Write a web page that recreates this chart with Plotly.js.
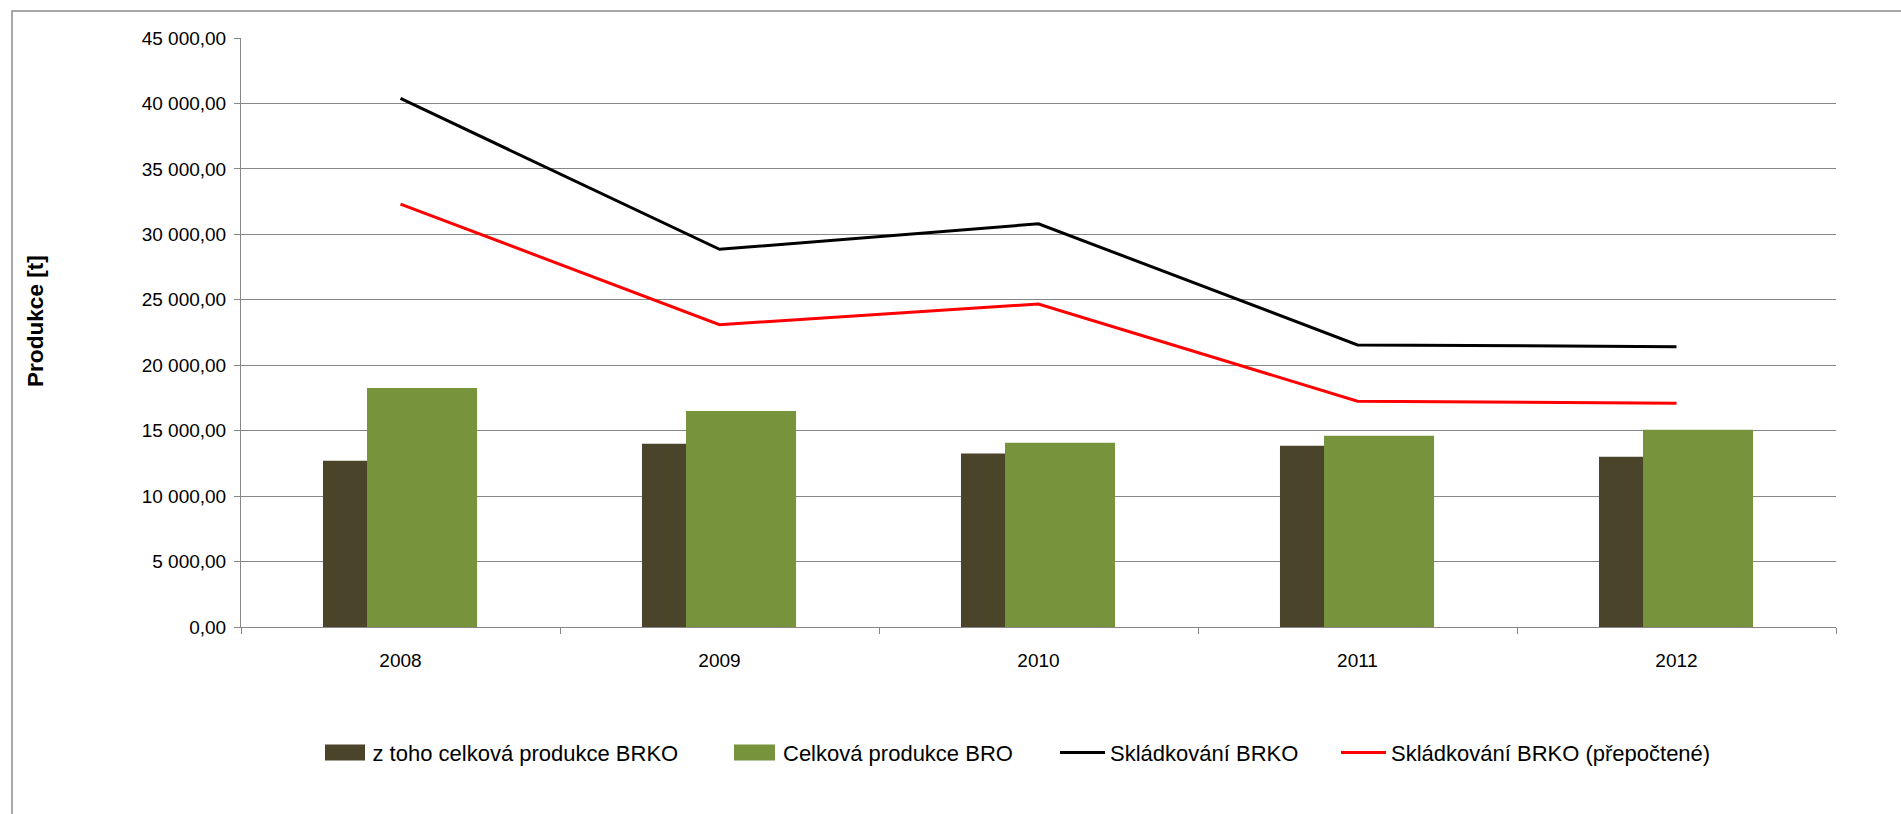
<!DOCTYPE html>
<html>
<head>
<meta charset="utf-8">
<script src="https://cdn.plot.ly/plotly-3.0.1.min.js"></script>
<style>
html, body { margin: 0; padding: 0; overflow: hidden; background: #ffffff; }
#chart { width: 1901px; height: 814px; }
</style>
</head>
<body>
<div id="chart"></div>
<script>
// ---- data ----
const years = ['2008', '2009', '2010', '2011', '2012'];
const brkoTotal = [12695, 13992, 13252, 13840, 13000];          // z toho celková produkce BRKO
const broTotal = [18267, 16511, 14069, 14603, 15061];           // Celková produkce BRO
const landfillBrko = [40382, 28855, 30809, 21550, 21420];       // Skládkování BRKO
const landfillBrkoRecalc = [32313, 23099, 24679, 17252, 17099]; // Skládkování BRKO (přepočtené)
const seriesNames = ['z toho celková produkce BRKO', 'Celková produkce BRO', 'Skládkování BRKO', 'Skládkování BRKO (přepočtené)'];
const yTickVals = [0, 5000, 10000, 15000, 20000, 25000, 30000, 35000, 40000, 45000];
const yTickText = ['0,00', '5 000,00', '10 000,00', '15 000,00', '20 000,00', '25 000,00', '30 000,00', '35 000,00', '40 000,00', '45 000,00'];
const yTitle = 'Produkce [t]';

// ---- styling ----
const FONT = '"Liberation Sans", Arial, sans-serif';
const GRID = '#878787';
const DARK = '#4A452A', GREEN = '#77933C';
const W = 1901, H = 814;
const M = { l: 241, r: 65, t: 38, b: 187 };
const PW = W - M.l - M.r, PH = H - M.t - M.b;
const px = x => (x - M.l) / PW;          // pixel -> paper x
const py = y => (H - M.b - y) / PH;      // pixel -> paper y

const traces = [
  { type: 'bar', name: seriesNames[0], x: years, y: brkoTotal,
    width: 0.345, offset: -0.243, marker: { color: DARK }, legend: 'legend' },
  { type: 'bar', name: seriesNames[1], x: years, y: broTotal,
    width: 0.345, offset: -0.105, marker: { color: GREEN }, legend: 'legend2' },
  { type: 'scatter', mode: 'lines', name: seriesNames[2], x: years, y: landfillBrko,
    line: { color: '#000000', width: 3 }, legend: 'legend3' },
  { type: 'scatter', mode: 'lines', name: seriesNames[3], x: years, y: landfillBrkoRecalc,
    line: { color: '#FF0000', width: 3 }, legend: 'legend4' }
];

const legY = py(752.7);
const legCommon = { orientation: 'h', yanchor: 'middle', y: legY, xanchor: 'left',
  font: { family: FONT, size: 22, color: '#000' }, bgcolor: 'rgba(0,0,0,0)', borderwidth: 0 };

// wider legend keys for the bar series (as in the reference)
function keyRect(x0, x1, color) {
  return { type: 'rect', xref: 'paper', yref: 'paper', layer: 'above',
    x0: px(x0), x1: px(x1), y0: py(760.5), y1: py(744.5),
    line: { width: 0 }, fillcolor: color };
}

const layout = {
  width: W, height: H,
  margin: { l: M.l, r: M.r, t: M.t, b: M.b, pad: 0, autoexpand: false },
  paper_bgcolor: '#ffffff', plot_bgcolor: '#ffffff',
  font: { family: FONT, color: '#000000' },
  barmode: 'overlay',
  showlegend: true,
  xaxis: {
    type: 'category', range: [-0.5, 4.5],
    showgrid: false, zeroline: false,
    showline: true, linecolor: GRID, linewidth: 1,
    ticks: 'outside', tickson: 'boundaries', ticklen: 6, tickcolor: GRID, tickwidth: 1,
    tickfont: { family: FONT, size: 19, color: '#000' },
    ticklabelstandoff: 16
  },
  yaxis: {
    range: [0, 45000],
    tickvals: yTickVals, ticktext: yTickText,
    showgrid: true, gridcolor: GRID, gridwidth: 1, zeroline: false,
    showline: true, linecolor: GRID, linewidth: 1,
    ticks: 'outside', ticklen: 6, tickcolor: GRID, tickwidth: 1,
    tickfont: { family: FONT, size: 19, color: '#000' },
    ticklabelstandoff: 4
  },
  legend: Object.assign({}, legCommon, { x: px(332.5), itemwidth: 30 }),
  legend2: Object.assign({}, legCommon, { x: px(743), itemwidth: 30 }),
  legend3: Object.assign({}, legCommon, { x: px(1055), itemwidth: 45 }),
  legend4: Object.assign({}, legCommon, { x: px(1336), itemwidth: 45 }),
  annotations: [{
    text: '<b>' + yTitle + '</b>', xref: 'paper', yref: 'paper',
    x: px(35), y: py(321), xanchor: 'center', yanchor: 'middle',
    textangle: -90, showarrow: false,
    font: { family: FONT, size: 22.6, color: '#000' }
  }],
  shapes: [
    { type: 'rect', xref: 'paper', yref: 'paper', layer: 'below',
      x0: px(12), x1: px(2100), y0: py(1100), y1: py(11),
      line: { color: '#8C8C8C', width: 1.5 }, fillcolor: 'rgba(0,0,0,0)' },
    keyRect(325, 365, DARK),
    keyRect(734, 775, GREEN)
  ]
};

Plotly.newPlot('chart', traces, layout, { displayModeBar: false, responsive: false });
</script>
</body>
</html>
